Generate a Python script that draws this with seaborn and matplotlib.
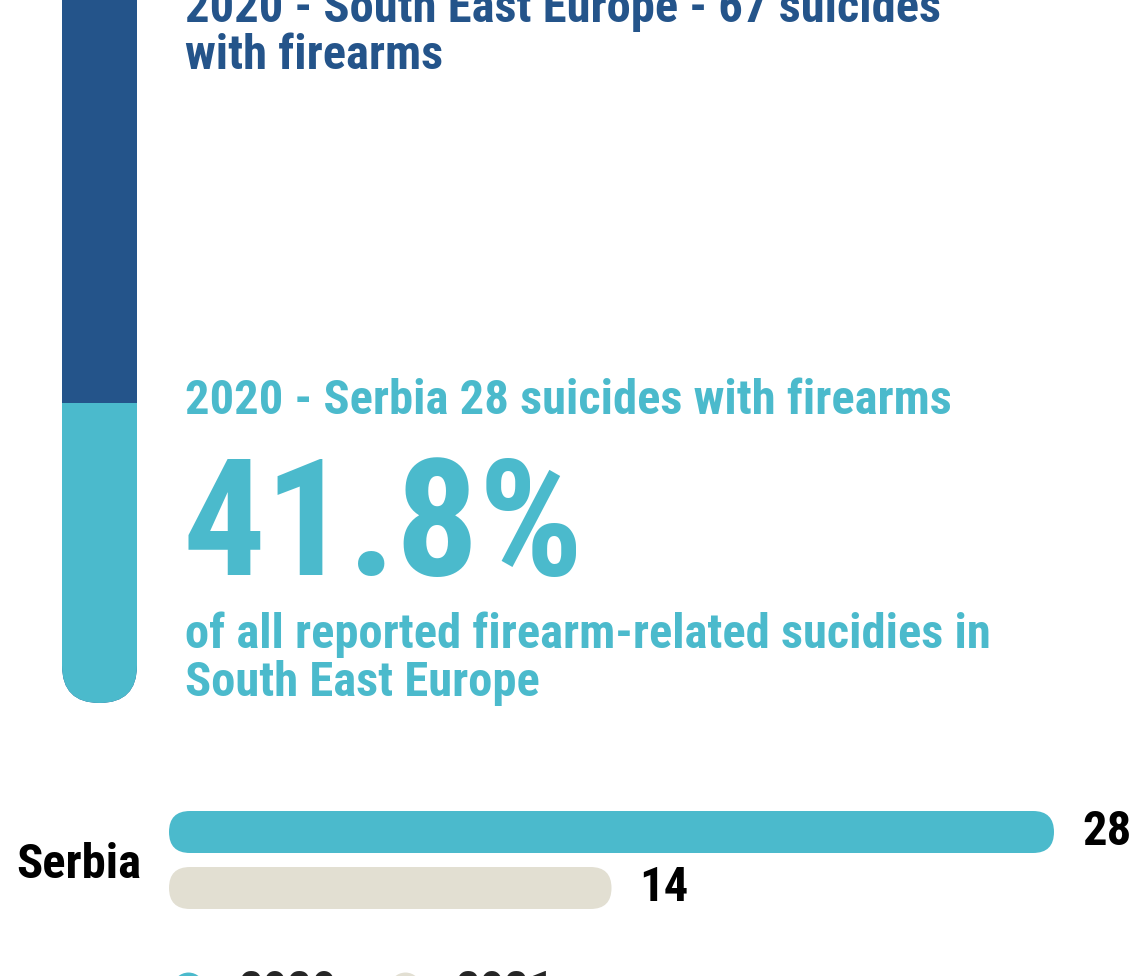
import matplotlib
matplotlib.use("Agg")
import matplotlib.pyplot as plt
import seaborn as sns
import pandas as pd
from matplotlib.patches import FancyBboxPatch
from matplotlib.lines import Line2D
import matplotlib.transforms as mtransforms

# ---------------- data ----------------
region_label = "South East Europe"
region_year = "2020"
total_see = 67
country = "Serbia"
serbia_2020 = 28
share_text = "41.8%"
years = ["2020", "2021"]
serbia_values = [28, 14]
countries = [country, country]

DARK = "#24548A"
LIGHT = "#4BBACC"
BEIGE = "#E2DFD2"

W, H = 1132, 976

sns.set_theme(style="white")
plt.rcParams["font.family"] = ["Roboto Condensed", "DejaVu Sans"]

fig = plt.figure(figsize=(W / 100, H / 100), dpi=100)
fig.patch.set_facecolor("white")


def px_axes(l, t, w, h):
    return fig.add_axes([l / W, 1 - (t + h) / H, w / W, h / H])


def aspect(ax, wpx, hpx):
    x0, x1 = ax.get_xlim()
    y0, y1 = ax.get_ylim()
    return (abs(y1 - y0) / hpx) / (abs(x1 - x0) / wpx)


# ---------------- vertical tube ----------------
tube_bottom = 703
tube_px_h = 300 * total_see / serbia_2020
tube_top = tube_bottom - tube_px_h
ax1 = px_axes(62, tube_top, 75, tube_px_h)
df_tot = pd.DataFrame({"g": [region_label], "v": [total_see]})
df_ser = pd.DataFrame({"g": [region_label], "v": [serbia_2020]})
sns.barplot(data=df_tot, x="g", y="v", color=DARK, width=1, saturation=1,
            linewidth=0, ax=ax1)
sns.barplot(data=df_ser, x="g", y="v", color=LIGHT, width=1, saturation=1,
            linewidth=0, ax=ax1)
ax1.set_xlim(-0.5, 0.5)
ax1.set_ylim(0, total_see)
ax1.axis("off")
asp1 = aspect(ax1, 75, tube_px_h)
# rounded-bottom clip shape (styling only): extends far above so the top stays flat
clip = FancyBboxPatch((-0.5, 0), 1, total_see * 2,
                      boxstyle="round,pad=0,rounding_size=0.5",
                      mutation_aspect=asp1, fc="none", lw=0)
ax1.add_patch(clip)
clip.set_visible(False)
for z, p in enumerate(ax1.patches[:2]):
    p.set_zorder(1 + z)
    p.set_clip_path(clip)

# ---------------- texts ----------------
def ftext(xpx, ypx, s, **kw):
    fig.text(xpx / W, 1 - ypx / H, s, va="baseline", ha="left", **kw)

TS = 35
ftext(185, 22, f"{region_year} - {region_label} - {total_see} suicides", color=DARK,
      fontsize=TS, fontweight="bold")
ftext(185, 69, "with firearms", color=DARK, fontsize=TS, fontweight="bold")
ftext(185, 414, f"{region_year} - {country} {serbia_2020} suicides with firearms",
      color=LIGHT, fontsize=TS, fontweight="bold")
ftext(183, 575, share_text, color=LIGHT, fontsize=118, fontweight="bold")
ftext(185, 648, "of all reported firearm-related sucidies in", color=LIGHT,
      fontsize=TS, fontweight="bold")
ftext(185, 696, region_label, color=LIGHT, fontsize=TS, fontweight="bold")

# ---------------- horizontal bars ----------------
ax2 = px_axes(169, 790, 885, 140)
df2 = pd.DataFrame({"country": countries, "year": years, "value": serbia_values})
sns.barplot(data=df2, y="country", x="value", hue="year", palette=[LIGHT, BEIGE],
            width=0.8, gap=0.25, saturation=1, orient="h", legend=False,
            linewidth=0, ax=ax2)
ax2.set_xlim(0, max(serbia_values))
ax2.set_ylim(0.5, -0.5)
for s in ax2.spines.values():
    s.set_visible(False)
ax2.set_xticks([])
ax2.set_xlabel("")
ax2.set_ylabel("")
ax2.tick_params(axis="y", length=0, pad=20, labelsize=35)
for lab in ax2.get_yticklabels():
    lab.set_fontweight("bold")
    lab.set_color("black")

asp2 = aspect(ax2, 885, 140)
bars = [p for p in ax2.patches]
for p, val in zip(bars, serbia_values):
    x, y, w, h = p.get_x(), p.get_y(), p.get_width(), p.get_height()
    fc = p.get_facecolor()
    p.remove()
    r = abs(h) / 2 / asp2
    ax2.add_patch(FancyBboxPatch((x, y), w, h, boxstyle=f"round,pad=0,rounding_size={r}",
                                 mutation_aspect=asp2, fc=fc, lw=0))
    off = mtransforms.offset_copy(ax2.transData, fig=fig, x=28, y=0, units="dots")
    ax2.text(x + w, y + h / 2, str(val), transform=off, ha="left", va="center",
             fontsize=35, fontweight="bold", color="black", clip_on=False)

# ---------------- legend ----------------
handles = [Line2D([], [], marker="o", linestyle="", markersize=23,
                  markerfacecolor=c, markeredgewidth=0) for c in [LIGHT, BEIGE]]
fig.legend(handles, years, loc="center left", bbox_to_anchor=(125 / W, 1 - 992 / H),
           ncol=2, frameon=False, handlelength=0.8, handletextpad=0.64,
           columnspacing=1.0,
           prop={"weight": "bold", "size": 35, "family": "Roboto Condensed"})

fig.savefig("out.png", dpi=100, facecolor="white")
